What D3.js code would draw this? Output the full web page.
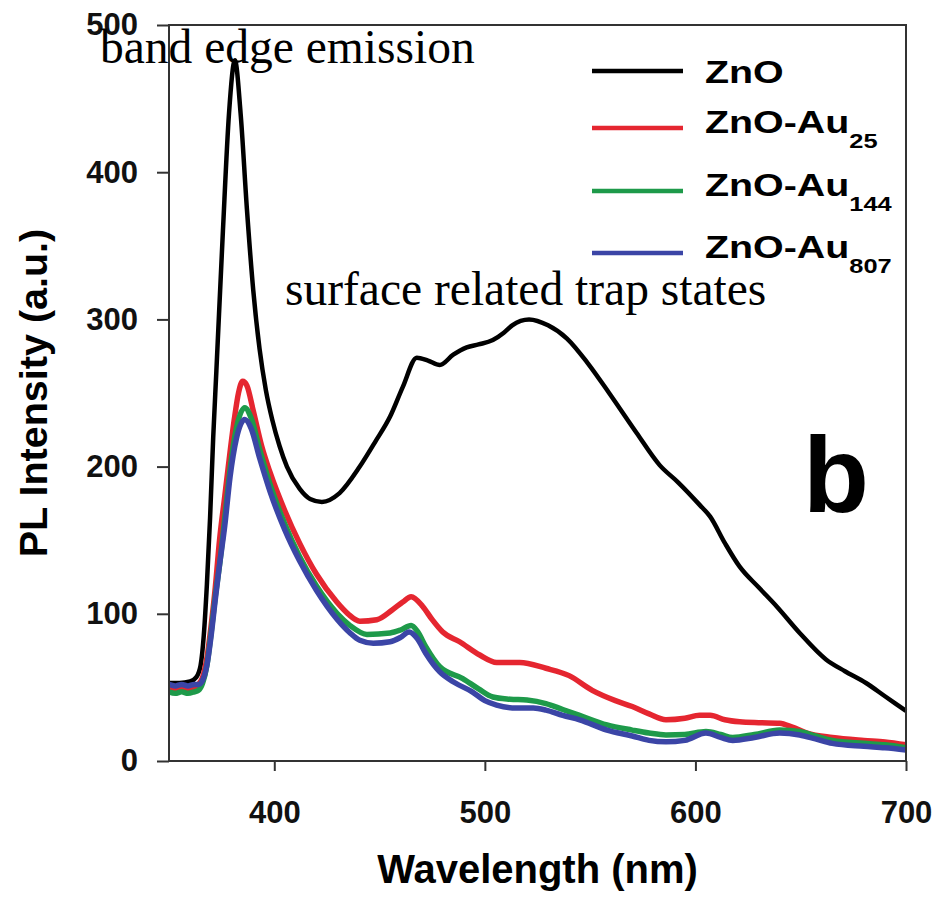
<!DOCTYPE html>
<html lang="en">
<head>
<meta charset="UTF-8">
<title>PL spectra ZnO / ZnO-Au</title>
<script src="https://cdn.jsdelivr.net/npm/d3@7"></script>
<style>
  body { margin: 0; background: #fff; }
  svg { display: block; }
  .tick text { font-family: "Liberation Sans", Arial, sans-serif; font-weight: bold; font-size: 31px; fill: #111; }
  .tick line { stroke: #333; stroke-width: 2; }
</style>
</head>
<body>
<svg id="chart" width="941" height="903"></svg>
<script>
// data (wavelength in nm, PL intensity in a.u.)
const wlZnO = [350, 355, 360, 363, 365, 366.5, 368, 369.5, 371, 372.5, 375.6, 378.5, 381.3, 384, 387, 390, 393, 396, 399, 402.5, 406, 412, 417, 422.6, 431, 440.6, 448, 455, 461, 467.7, 473, 478.6, 485, 491.4, 497, 503.8, 509, 513, 521, 530, 539, 549, 559, 572, 583, 592, 602, 607, 614, 621, 630, 638.6, 649.5, 662, 671, 681, 690, 700];
const intZnO = [53, 53, 54, 57, 65, 85, 120, 165, 220, 265, 360, 440, 476, 440, 375, 320, 280, 252, 232, 214, 200, 185, 178, 176, 182, 200, 217, 234, 254, 274, 272, 269, 276, 281, 283, 286, 291, 296, 300, 296, 287, 270, 250, 223, 201, 189, 174, 166, 148, 132, 118, 105, 87, 69, 61, 53, 44, 34];

const wlAu25 = [350, 353, 356, 359, 362, 364, 366, 368, 370, 372, 374, 376.5, 378, 381, 383, 385, 387, 390, 394, 398, 405, 412, 420, 429.7, 435, 440.6, 448.7, 456, 461, 465, 470.5, 475, 480, 488, 497.6, 505.6, 516.6, 529, 540, 551, 562, 570, 578, 586, 595, 602, 607, 614, 621, 630, 640, 646, 653, 665, 680, 690, 700];
const intAu25 = [50, 49, 50, 49, 50, 52, 57, 70, 92, 118, 150, 180, 198, 232, 250, 258, 255, 238, 214, 196, 170, 148, 127, 108, 100, 95, 96, 102.6, 108, 111.6, 105, 96, 87.6, 81, 72, 67, 67, 63, 58, 48, 41, 37, 32, 28, 29, 31, 31, 28, 26.6, 26, 25.7, 23, 19, 16, 14, 13, 11];

const wlAu144 = [350, 353, 356, 359, 362, 364, 366, 368, 370, 372, 374, 376.5, 379, 382, 386, 389, 393, 398, 405, 412, 420, 430, 436, 444, 455, 460, 465, 468, 472, 478.6, 489.5, 497, 503.8, 512, 520, 529, 537, 545, 558, 570, 578, 586, 595, 605, 612, 617.7, 628, 640, 649.5, 657, 665, 680, 690, 700];
const intAu144 = [47, 46, 47, 46, 47, 48, 53, 65, 87, 112, 133, 165, 198, 226, 240, 233, 212, 188, 161, 139, 119, 100, 92, 86, 87, 89, 92, 88, 77.5, 64, 56, 49, 43.5, 42, 41.4, 39, 35, 31, 24.5, 21, 19, 17.7, 18, 20, 18, 16, 18, 21, 20, 17, 14, 12, 11, 9];

const wlAu807 = [350, 353, 356, 359, 362, 364, 366, 368, 370, 372, 373.7, 376.5, 379, 382, 386, 389, 393, 398, 405, 412, 420, 430, 436, 440.6, 447, 455, 460, 464, 468, 472, 478.6, 486, 494, 500, 505.6, 515, 523, 529, 537, 545, 558, 570, 578, 586, 595, 605, 612, 617.7, 628, 640, 649.5, 657, 665, 680, 690, 700];
const intAu807 = [52, 51, 52, 51, 52, 52, 55, 65, 85, 110, 130, 160, 193, 219, 232, 226, 206, 183, 157, 136, 116, 96, 87, 82, 80, 81, 84, 87.6, 83, 73, 60.5, 53, 47, 41, 38, 36, 36, 34.6, 31, 28, 21, 17, 14, 13, 14, 19, 16, 14, 16, 19, 17.7, 15, 12, 10, 9, 7.5];

const seriesNames = ["ZnO", "ZnO-Au", "ZnO-Au", "ZnO-Au"];
const seriesSubs = ["", "25", "144", "807"];
const seriesColors = ["#000000", "#e52630", "#1e9a4a", "#3b45a6"];
const xTicks = [400, 500, 600, 700];
const yTicks = [0, 100, 200, 300, 400, 500];

const series = [
  { wl: wlZnO, v: intZnO },
  { wl: wlAu25, v: intAu25 },
  { wl: wlAu144, v: intAu144 },
  { wl: wlAu807, v: intAu807 }
];

const svg = d3.select("#chart");
const plotL = 169, plotR = 906, plotT = 25, plotB = 761;

const x = d3.scaleLinear().domain([350, 700]).range([plotL, plotR]);
const y = d3.scaleLinear().domain([0, 500]).range([plotB, plotT]);

// axes
const yAxis = svg.append("g")
  .attr("transform", `translate(${plotL},0)`)
  .call(d3.axisLeft(y).tickValues(yTicks).tickSize(12).tickSizeOuter(0).tickPadding(19));
yAxis.select(".domain").remove();

const xAxis = svg.append("g")
  .attr("transform", `translate(0,${plotB})`)
  .call(d3.axisBottom(x).tickValues(xTicks).tickSize(10).tickSizeOuter(0).tickPadding(30));
xAxis.select(".domain").remove();

// curves
const line = d3.line()
  .x(d => x(d[0]))
  .y(d => y(d[1]))
  .curve(d3.curveMonotoneX);

series.forEach((s, i) => {
  svg.append("path")
    .datum(s.wl.map((w, k) => [w, s.v[k]]))
    .attr("fill", "none")
    .attr("stroke", seriesColors[i])
    .attr("stroke-width", i === 0 ? 4.5 : 5.5)
    .attr("stroke-linejoin", "round")
    .attr("d", line);
});

// frame
svg.append("rect")
  .attr("x", plotL).attr("y", plotT)
  .attr("width", plotR - plotL).attr("height", plotB - plotT)
  .attr("fill", "none")
  .attr("stroke", "#333")
  .attr("stroke-width", 2);

// axis titles
svg.append("text")
  .attr("x", (plotL + plotR) / 2)
  .attr("y", 883)
  .attr("text-anchor", "middle")
  .style("font-family", "Liberation Sans, Arial, sans-serif")
  .style("font-weight", "bold")
  .style("font-size", "40px")
  .text("Wavelength (nm)");

svg.append("text")
  .attr("transform", `translate(47,${(plotT + plotB) / 2}) rotate(-90)`)
  .attr("text-anchor", "middle")
  .style("font-family", "Liberation Sans, Arial, sans-serif")
  .style("font-weight", "bold")
  .style("font-size", "39.5px")
  .text("PL Intensity (a.u.)");

// legend
const legendY = [71, 128, 191, 253];
seriesNames.forEach((name, i) => {
  svg.append("line")
    .attr("x1", 592).attr("x2", 683)
    .attr("y1", legendY[i]).attr("y2", legendY[i])
    .attr("stroke", seriesColors[i])
    .attr("stroke-width", 4.5);
  const base = legendY[i] + (seriesSubs[i] ? 4.5 : 12);
  const t = svg.append("text")
    .attr("transform", `translate(705,${base}) scale(1.27,1)`)
    .style("font-family", "Liberation Sans, Arial, sans-serif")
    .style("font-weight", "bold")
    .style("font-size", "31px")
    .text(name);
  if (seriesSubs[i]) {
    t.append("tspan")
      .attr("dy", 15)
      .style("font-size", "20px")
      .text(seriesSubs[i]);
  }
});

// annotations
svg.append("text")
  .attr("x", 100).attr("y", 63)
  .style("font-family", "Liberation Serif, Times New Roman, serif")
  .style("font-size", "47.5px")
  .text("band edge emission");

svg.append("text")
  .attr("x", 285).attr("y", 305)
  .style("font-family", "Liberation Serif, Times New Roman, serif")
  .style("font-size", "47.5px")
  .text("surface related trap states");

svg.append("text")
  .attr("x", 803).attr("y", 512)
  .style("font-family", "Liberation Sans, Arial, sans-serif")
  .style("font-weight", "bold")
  .style("font-size", "108px")
  .text("b");
</script>
</body>
</html>
